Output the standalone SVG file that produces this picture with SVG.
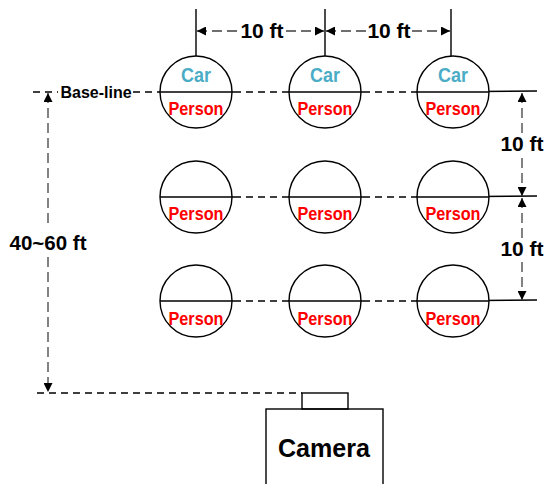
<svg xmlns="http://www.w3.org/2000/svg" width="548" height="484" viewBox="0 0 548 484">
<defs>
<marker id="ah" viewBox="0 0 10 10" refX="10" refY="5" markerWidth="9" markerHeight="9" markerUnits="userSpaceOnUse" orient="auto-start-reverse">
<path d="M0,0 L10,5 L0,10 z" fill="#000"/>
</marker>
<style>
.c{fill:#fff;stroke:#000;stroke-width:1.4}
.s{stroke:#000;stroke-width:1.4;fill:none}
.d{stroke:#000;stroke-width:1.3;stroke-dasharray:7 5;fill:none}
.dim{stroke:#404040;stroke-width:1.3;stroke-dasharray:10 5;fill:none}
.t{font-family:"Liberation Sans",Arial,sans-serif;font-weight:bold;text-anchor:middle}
.car{fill:#4BACC6;font-size:21px}
.per{fill:#FF0000;font-size:18px}
.lab{fill:#000;font-size:21px}
</style>
</defs>
<rect width="548" height="484" fill="#fff"/>
<g id="connectors">
<path class="d" d="M33,92 H58 M133,92 H160 M234,92 H289 M363,92 H417"/>
<path class="s" d="M417,92 L537,91"/>
<path class="d" d="M234,197 H289 M363,197 H417"/>
<path class="s" d="M417,197 L537,196"/>
<path class="d" d="M234,301 H289 M363,301 H417"/>
<path class="s" d="M417,301 L537,300"/>
<path class="d" d="M37,393 H302"/>
<path class="s" d="M196,9 V56 M325,9 V56 M451,9 V56"/>
<path class="dim" d="M197,31 H238" marker-start="url(#ah)"/>
<path class="dim" d="M286,31 H324" marker-end="url(#ah)"/>
<path class="dim" d="M326,31 H366" marker-start="url(#ah)"/>
<path class="dim" d="M412,31 H450" marker-end="url(#ah)"/>
<path class="dim" d="M522,93 V133" marker-start="url(#ah)"/>
<path class="dim" d="M522,158 V196" marker-end="url(#ah)"/>
<path class="dim" d="M522,198 V238" marker-start="url(#ah)"/>
<path class="dim" d="M522,262 V300" marker-end="url(#ah)"/>
<path class="dim" d="M48,93 V228" marker-start="url(#ah)"/>
<path class="dim" d="M48,257 V392" marker-end="url(#ah)"/>
</g>
<g id="dim-labels">
<text class="t lab" x="262" y="38">10 ft</text>
<text class="t lab" x="389" y="38">10 ft</text>
<text class="t lab" x="522" y="151">10 ft</text>
<text class="t lab" x="522" y="256">10 ft</text>
<text class="t lab" x="48" y="250" textLength="77" lengthAdjust="spacingAndGlyphs">40~60 ft</text>
<text class="t" x="96" y="98" style="font-size:16px;fill:#000">Base-line</text>
</g>
<g id="r1c1"><circle class="c" cx="196" cy="92" r="36"/><path class="s" d="M160,92 H234"/><text class="t car" x="196" y="82" textLength="30" lengthAdjust="spacingAndGlyphs">Car</text><text class="t per" x="196" y="115" textLength="55" lengthAdjust="spacingAndGlyphs">Person</text></g>
<g id="r1c2"><circle class="c" cx="325" cy="92" r="36"/><path class="s" d="M289,92 H363"/><text class="t car" x="325" y="82" textLength="30" lengthAdjust="spacingAndGlyphs">Car</text><text class="t per" x="325" y="115" textLength="55" lengthAdjust="spacingAndGlyphs">Person</text></g>
<g id="r1c3"><circle class="c" cx="453" cy="92" r="36"/><path class="s" d="M417,92 H489"/><text class="t car" x="453" y="82" textLength="30" lengthAdjust="spacingAndGlyphs">Car</text><text class="t per" x="453" y="115" textLength="55" lengthAdjust="spacingAndGlyphs">Person</text></g>
<g id="r2c1"><circle class="c" cx="196" cy="197" r="36"/><path class="s" d="M160,197 H234"/><text class="t per" x="196" y="220" textLength="55" lengthAdjust="spacingAndGlyphs">Person</text></g>
<g id="r2c2"><circle class="c" cx="325" cy="197" r="36"/><path class="s" d="M289,197 H363"/><text class="t per" x="325" y="220" textLength="55" lengthAdjust="spacingAndGlyphs">Person</text></g>
<g id="r2c3"><circle class="c" cx="453" cy="197" r="36"/><path class="s" d="M417,197 H489"/><text class="t per" x="453" y="220" textLength="55" lengthAdjust="spacingAndGlyphs">Person</text></g>
<g id="r3c1"><circle class="c" cx="196" cy="301" r="36"/><path class="s" d="M160,301 H234"/><text class="t per" x="196" y="325" textLength="55" lengthAdjust="spacingAndGlyphs">Person</text></g>
<g id="r3c2"><circle class="c" cx="325" cy="301" r="36"/><path class="s" d="M289,301 H363"/><text class="t per" x="325" y="325" textLength="55" lengthAdjust="spacingAndGlyphs">Person</text></g>
<g id="r3c3"><circle class="c" cx="453" cy="301" r="36"/><path class="s" d="M417,301 H489"/><text class="t per" x="453" y="325" textLength="55" lengthAdjust="spacingAndGlyphs">Person</text></g>
<g id="camera">
<rect class="s" x="302" y="393" width="46" height="16"/>
<rect class="s" x="266" y="409" width="117" height="90"/>
<text class="t" x="324" y="457" style="font-size:26px;fill:#000" textLength="92" lengthAdjust="spacingAndGlyphs">Camera</text>
</g>
</svg>
